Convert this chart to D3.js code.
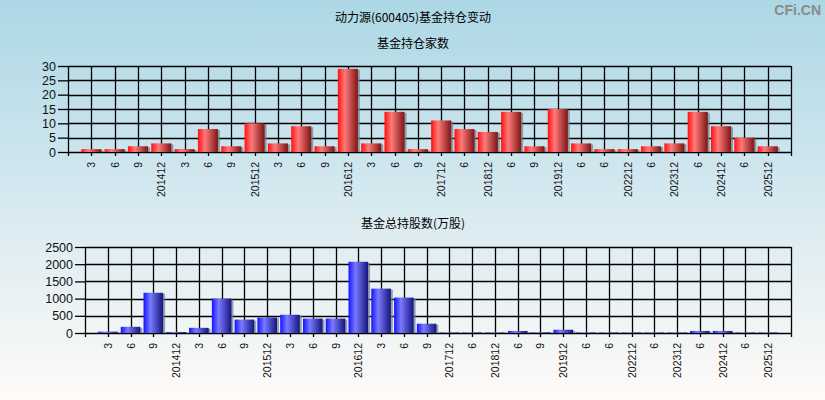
<!DOCTYPE html>
<html>
<head>
<meta charset="utf-8">
<script src="https://cdn.jsdelivr.net/npm/d3@7"></script>
<style>
  html, body { margin: 0; padding: 0; }
  svg { display: block; }
</style>
</head>
<body>
<svg id="chart" width="825" height="400"></svg>
<script>
// Quarter labels shared by both panels (year-end quarters shown as YYYYMM)
const categories = ["3","6","9","201412","3","6","9","201512","3","6","9","201612","3","6","9",
  "201712","6","201812","6","9","201912","6","6","202212","6","202312","6","202412","6","202512"];

// Number of funds holding the stock per quarter
const fundCounts = [1,1,2,3,1,8,2,10,3,9,2,29,3,14,1,11,8,7,14,2,15,3,1,1,2,3,14,9,5,2];

// Total shares held by funds (10k shares) per quarter
const holdings = [40,180,1170,30,150,1000,390,450,530,420,420,2070,1290,1030,270,
  15,15,15,60,20,95,15,15,15,15,15,60,60,15,15];

const countTicks = [0,5,10,15,20,25,30];
const holdingTicks = [0,500,1000,1500,2000,2500];

const svg = d3.select("#chart");
const W = 825, H = 400;
const numFont = "'Liberation Sans', Arial, sans-serif";
const cjkFont = "'Noto Sans CJK SC', 'Noto Sans', sans-serif";

const defs = svg.append("defs");
const bg = defs.append("linearGradient").attr("id", "bg").attr("x1", 0).attr("y1", 0).attr("x2", 0).attr("y2", 1);
bg.append("stop").attr("offset", "0%").attr("stop-color", "#acd7e5");
bg.append("stop").attr("offset", "50%").attr("stop-color", "#d6e9f0");
bg.append("stop").attr("offset", "100%").attr("stop-color", "#fffbf8");

function barGradient(id, edge, light, dark) {
  const g = defs.append("linearGradient").attr("id", id).attr("x1", 0).attr("y1", 0).attr("x2", 1).attr("y2", 0);
  g.append("stop").attr("offset", "0%").attr("stop-color", edge);
  g.append("stop").attr("offset", "35%").attr("stop-color", light);
  g.append("stop").attr("offset", "100%").attr("stop-color", dark);
}
barGradient("redBar", "#ff1010", "#ff7a7a", "#7e1414");
barGradient("blueBar", "#1414ff", "#7a7aff", "#14147e");

svg.append("rect").attr("width", W).attr("height", H).attr("fill", "url(#bg)");

// Titles
svg.append("text").attr("x", 413).attr("y", 22).attr("text-anchor", "middle")
  .attr("font-family", cjkFont).attr("font-size", 12).attr("fill", "#000")
  .text("动力源(600405)基金持仓变动");
svg.append("text").attr("x", 821).attr("y", 15).attr("text-anchor", "end")
  .attr("font-family", numFont).attr("font-size", 14).attr("font-weight", "bold").attr("fill", "#8a8a8a")
  .text("CFi.CN");

function panel(opts) {
  const { left, right, top, bottom, values, ticks, maxV, fill, title, titleY } = opts;
  const g = svg.append("g");

  g.append("text").attr("x", 413).attr("y", titleY).attr("text-anchor", "middle")
    .attr("font-family", cjkFont).attr("font-size", 12).attr("fill", "#000").text(title);

  const x = d3.scalePoint().domain(d3.range(categories.length)).range([left, right]).padding(1);
  const step = x.step();
  const y = d3.scaleLinear().domain([0, maxV]).range([bottom, top]);

  // horizontal grid
  g.selectAll(".hg").data(ticks).join("line")
    .attr("x1", left).attr("x2", right)
    .attr("y1", d => Math.round(y(d)) + 0.5).attr("y2", d => Math.round(y(d)) + 0.5)
    .attr("stroke", "#000").attr("stroke-width", 1.3);

  // vertical grid at every slot, extending slightly below the axis
  const slots = d3.range(categories.length + 2).map(i => left + i * step);
  g.selectAll(".vg").data(slots).join("line")
    .attr("x1", d => Math.round(d) + 0.5).attr("x2", d => Math.round(d) + 0.5)
    .attr("y1", top).attr("y2", bottom + 4)
    .attr("stroke", "#000").attr("stroke-width", 1.3);

  // bars with a soft shadow on the right
  const bw = step * 0.86;
  const bars = g.selectAll(".bar").data(values).join("g");
  bars.append("rect")
    .attr("x", (d, i) => x(i) - bw / 2 + 2)
    .attr("y", d => y(d) + 1)
    .attr("width", bw)
    .attr("height", d => Math.max(0, bottom - y(d) - 1))
    .attr("fill", "#6f7f8a").attr("opacity", 0.7);
  bars.append("rect")
    .attr("x", (d, i) => x(i) - bw / 2)
    .attr("y", d => y(d))
    .attr("width", bw)
    .attr("height", d => bottom - y(d))
    .attr("fill", fill);

  // y axis
  const ya = g.append("g").attr("transform", `translate(${left},0)`)
    .call(d3.axisLeft(y).tickValues(ticks).tickFormat(d3.format("d")).tickSize(10).tickPadding(2));
  ya.select(".domain").remove();
  ya.selectAll(".tick line").attr("stroke", "#000").attr("stroke-width", 1.3);
  ya.selectAll(".tick text").attr("font-family", numFont).attr("font-size", 12.5).attr("fill", "#111");

  // x axis labels, rotated
  g.selectAll(".xl").data(categories).join("text")
    .attr("transform", (d, i) => `translate(${x(i) + 4},${bottom + 10}) rotate(-90)`)
    .attr("text-anchor", "end")
    .attr("font-family", numFont).attr("font-size", 10.5).attr("fill", "#111")
    .text(d => d);
}

panel({ left: 68, right: 791, top: 66, bottom: 152, values: fundCounts, ticks: countTicks, maxV: 30,
  fill: "url(#redBar)", title: "基金持仓家数", titleY: 48 });
panel({ left: 85, right: 791, top: 247, bottom: 333, values: holdings, ticks: holdingTicks, maxV: 2500,
  fill: "url(#blueBar)", title: "基金总持股数(万股)", titleY: 228 });
</script>
</body>
</html>
